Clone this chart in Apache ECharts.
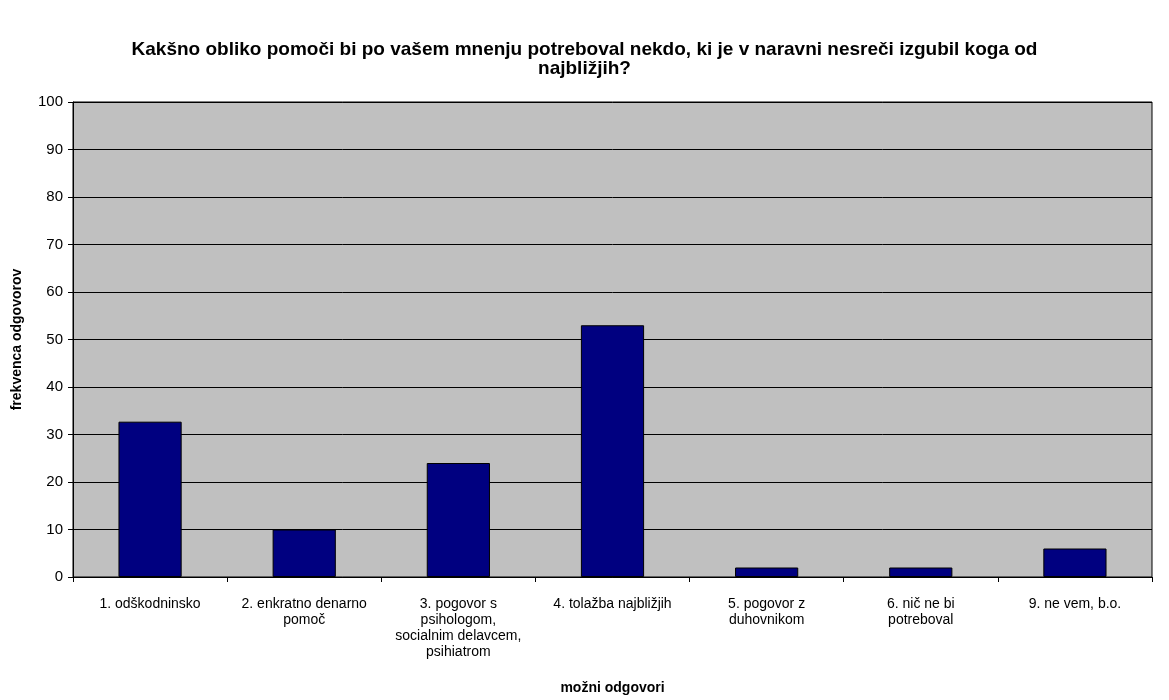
<!DOCTYPE html>
<html><head><meta charset="utf-8">
<script src="https://cdn.jsdelivr.net/npm/echarts@6/dist/echarts.min.js"></script>
<style>html,body{margin:0;padding:0;background:#fff}#c{width:1169px;height:700px}</style>
</head><body><div id="c"></div>
<script>
const categories = ["1. odškodninsko", "2. enkratno denarno\npomoč", "3. pogovor s\npsihologom,\nsocialnim delavcem,\npsihiatrom", "4. tolažba najbližjih", "5. pogovor z\nduhovnikom", "6. nič ne bi\npotreboval", "9. ne vem, b.o."];
const values = [32.7, 10, 24, 53, 2, 2, 6];
const titleText = "Kakšno obliko pomoči bi po vašem mnenju potreboval nekdo, ki je v naravni nesreči izgubil koga od\nnajbližjih?";
const font = "Liberation Sans, Arial, sans-serif";
const chart = echarts.init(document.getElementById('c'), null, {renderer: 'canvas'});
chart.setOption({
  animation: false,
  backgroundColor: '#ffffff',
  title: {text: titleText, left: 'center', top: 35, textStyle: {fontFamily: font, fontSize: 19, fontWeight: 'bold', color: '#000', lineHeight: 19}},
  grid: {left: 73, right: 17, top: 102, bottom: 123, show: true, backgroundColor: '#c0c0c0', borderColor: '#000', borderWidth: 1},
  xAxis: {
    type: 'category', data: categories,
    name: 'možni odgovori', nameLocation: 'middle', nameGap: 104,
    nameTextStyle: {fontFamily: font, fontSize: 14, fontWeight: 'bold', color: '#000'},
    axisLine: {lineStyle: {color: '#000'}},
    axisTick: {show: true, alignWithLabel: false, length: 5, lineStyle: {color: '#000'}},
    axisLabel: {interval: 0, fontFamily: font, fontSize: 14, color: '#000', lineHeight: 16, margin: 19}
  },
  yAxis: {
    type: 'value', min: 0, max: 100, interval: 10,
    name: 'frekvenca odgovorov', nameLocation: 'middle', nameGap: 49, nameRotate: 90,
    nameTextStyle: {fontFamily: font, fontSize: 14, fontWeight: 'bold', color: '#000'},
    axisLine: {show: true, lineStyle: {color: '#000'}},
    axisTick: {show: true, length: 5, lineStyle: {color: '#000'}},
    axisLabel: {fontFamily: font, fontSize: 15, color: '#000', margin: 10},
    splitLine: {show: true, lineStyle: {color: '#000', width: 1}}
  },
  series: [{
    type: 'bar', data: values, barCategoryGap: '59%',
    itemStyle: {color: '#000080', borderColor: '#000', borderWidth: 1}
  }]
});
</script></body></html>
